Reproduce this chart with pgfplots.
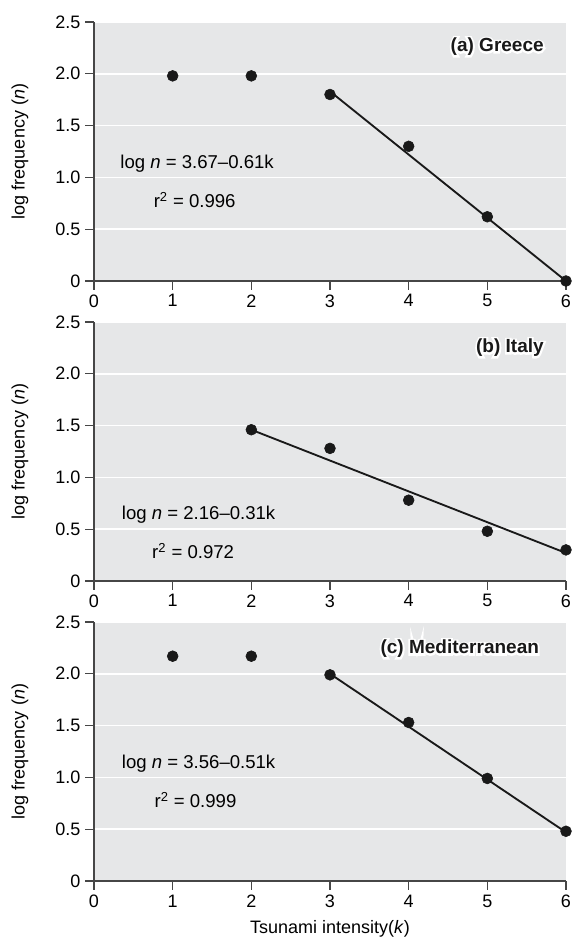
\documentclass[border=0pt]{standalone}
\usepackage{pgfplots}
\pgfplotsset{compat=1.18}
\usepackage{fontspec}
\setmainfont{Liberation Sans}
\definecolor{bggray}{RGB}{230,231,232}
\definecolor{axgray}{RGB}{70,70,70}
\definecolor{ptblack}{RGB}{25,25,25}
\newcommand{\lblfont}{\fontsize{12.6}{15}\selectfont}
\newcommand{\eqfont}{\fontsize{13}{15}\selectfont}
\newcommand{\ttlfont}{\fontsize{13.3}{15}\selectfont\bfseries}
% white halo: one emboldened (stroked) white copy behind the black text
\font\halof="Liberation Sans Bold:embolden=20" at 13.3pt
\newcommand{\halo}[1]{\leavevmode\rlap{\halof\color{white}#1}{\color{ptblack}#1}}
\pgfplotsset{
  panel/.style={
    scale only axis, width=330.4pt, height=181.3pt,
    xmin=0, xmax=6, ymin=0, ymax=2.5,
    axis x line=bottom, axis y line=left,
    axis line style={-, axgray, line width=1pt},
    axis background/.style={fill=bggray},
    xtick={0,1,2,3,4,5,6}, xticklabels={0,1,2,3,4,5,6},
    ytick={0,0.5,1,1.5,2,2.5}, yticklabels={0,0.5,1.0,1.5,2.0,2.5},
    tick align=outside, major tick length=6pt,
    every tick/.style={axgray, line width=0.8pt},
    ymajorgrids, grid style={white, line width=1pt},
    tick label style={font=\lblfont},
    /pgf/number format/assume math mode=true,
    ylabel={log frequency (\textit{n})},
    ylabel style={font=\lblfont, at={(axis description cs:-0.157,0.5)}, anchor=center},
    clip=false,
  },
  pts/.style={only marks, mark=*, mark size=3.8pt, ptblack},
  fit/.style={no marks, ptblack, line width=1.3pt},
}
\begin{document}
\begin{tikzpicture}
\path[use as bounding box] (-65.8pt,-41.3pt) rectangle (335.3pt,616.7pt);
% (a) Greece
\begin{axis}[panel, at={(0,420pt)}, anchor=south west]
\addplot[fit] coordinates {(3,1.83) (6,0.0)};
\addplot[pts] coordinates {(1,1.98) (2,1.98) (3,1.80) (4,1.30) (5,0.62) (6,0.00)};
\node[font=\eqfont] at (axis cs:1.31,1.13) {log \textit{n} = 3.67--0.61k};
\node[font=\eqfont] at (axis cs:1.28,0.78) {r\textsuperscript{2} = 0.996};
\node[anchor=east, font=\ttlfont, inner sep=0pt] at (axis cs:5.72,2.26) {\halo{(a) Greece}};
\end{axis}
% (b) Italy
\begin{axis}[panel, at={(0,210pt)}, anchor=south west]
\addplot[fit] coordinates {(2,1.46) (6,0.27)};
\addplot[pts] coordinates {(2,1.46) (3,1.28) (4,0.78) (5,0.48) (6,0.30)};
\node[font=\eqfont] at (axis cs:1.33,0.64) {log \textit{n} = 2.16--0.31k};
\node[font=\eqfont] at (axis cs:1.26,0.29) {r\textsuperscript{2} = 0.972};
\node[anchor=east, font=\ttlfont, inner sep=0pt] at (axis cs:5.72,2.25) {\halo{(b) Italy}};
\end{axis}
% (c) Mediterranean
\begin{axis}[panel, at={(0,0pt)}, anchor=south west,
  xlabel={Tsunami intensity(\textit{k})},
  xlabel style={font=\lblfont, at={(axis description cs:0.5,-0.185)}, anchor=center}]
\addplot[fit] coordinates {(3,2.00) (6,0.47)};
\addplot[pts] coordinates {(1,2.17) (2,2.17) (3,1.99) (4,1.53) (5,0.99) (6,0.48)};
\node[font=\eqfont] at (axis cs:1.33,1.13) {log \textit{n} = 3.56--0.51k};
\node[font=\eqfont] at (axis cs:1.29,0.78) {r\textsuperscript{2} = 0.999};
\node[anchor=east, font=\ttlfont, inner sep=0pt] at (axis cs:5.66,2.24) {\halo{(c) Mediterranean}};
\end{axis}
\end{tikzpicture}
\end{document}
